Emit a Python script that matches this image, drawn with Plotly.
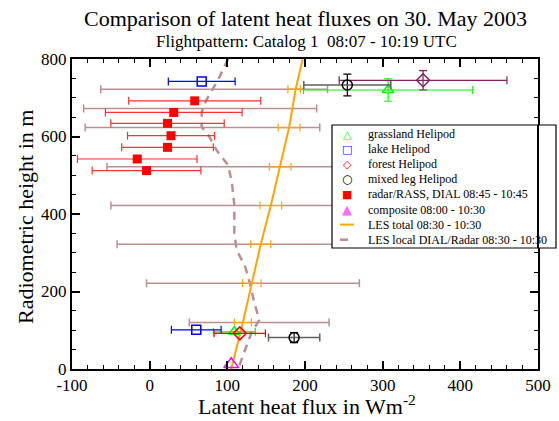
import plotly.graph_objects as go

# ---------------- data ----------------
grass_x = [307, 109]
grass_y = [720, 96]
grass_ex = [109, 27]
grass_ey = [29, 0]

lake_x = [67, 60]
lake_y = [742, 101]
lake_ex = [43, 32]

forest_x = [116]
forest_y = [92]
forest_ex = [33]

forest_up_x = [352]
forest_up_y = [745]
forest_up_ex = [108]
forest_up_ey = [25]

mixed_x = [254.5, 186]
mixed_y = [733, 81]
mixed_ex = [56, 33]
mixed_ey = [28, 13]

radar_x = [58, 31, 23, 27.5, 23, -16, -4]
radar_y = [692, 662, 634, 602, 572, 542, 512]
radar_ex = [85, 88, 73, 56, 59, 77, 70]

comp_x = [105]
comp_y = [12]

les_total_y = [0, 120, 221, 322, 422, 522, 623, 722, 800]
les_total_x = [105, 120, 131.5, 143, 156, 168, 179.5, 188, 197]
les_total_err_y = [120, 221, 322, 422, 522, 623, 722]
les_total_err_x = [120, 131.5, 143, 156, 168, 179.5, 186]
les_total_err = [11, 12, 13, 14, 14, 14, 8]

les_local_y = [800, 746, 694, 663, 625, 599, 565, 526, 480, 423, 351, 307, 264, 221, 178, 126, 93, 58, 23, 0]
les_local_x = [101, 88, 73, 67, 67, 77, 86, 101, 106, 109, 109, 112, 123, 129, 134, 141, 131, 125, 118, 114]
les_local_err_y = [722, 672, 623, 522, 422, 322, 221, 120]
les_local_err_x = [83, 65, 68, 101, 110, 112, 133, 141]
les_local_err = [146, 150, 151, 156, 160, 154, 137, 90]

x_ticks = [-100, 0, 100, 200, 300, 400, 500]
y_ticks = [0, 200, 400, 600, 800]

legend_labels = ["grassland Helipod", "lake Helipod", "forest Helipod", "mixed leg Helipod",
                 "radar/RASS, DIAL 08:45 - 10:45", "composite 08:00 - 10:30",
                 "LES total 08:30 - 10:30", "LES local DIAL/Radar 08:30 - 10:30"]

FONT = "Liberation Serif"
ROSY = "#bc8f8f"
ORANGE = "#ffa500"
GREEN = "#00ff00"
BLUE = "#0000ff"
RED = "#ff0000"
MAROON = "#802060"
MAGENTA = "#ff00ff"

# plot area in pixels
L, R, T, B = 72, 538, 59, 369


def px(xp):
    return (xp - L) / (R - L)


def py(yp):
    return (B - yp) / (B - T)


fig = go.Figure()

fig.add_trace(go.Scatter(
    x=les_local_err_x, y=les_local_err_y, mode="markers",
    marker=dict(size=0.1, color=ROSY, opacity=0),
    error_x=dict(type="data", array=les_local_err, color=ROSY, thickness=1.5, width=4),
    showlegend=False, hoverinfo="skip"))

fig.add_trace(go.Scatter(
    x=les_local_x, y=les_local_y, mode="lines",
    line=dict(color=ROSY, width=2.5, dash="8px,6px"), showlegend=False))

fig.add_trace(go.Scatter(
    x=les_total_err_x, y=les_total_err_y, mode="markers",
    marker=dict(size=0.1, color=ORANGE, opacity=0),
    error_x=dict(type="data", array=les_total_err, color=ORANGE, thickness=1.2, width=4),
    showlegend=False, hoverinfo="skip"))

fig.add_trace(go.Scatter(
    x=les_total_x, y=les_total_y, mode="lines",
    line=dict(color=ORANGE, width=2), showlegend=False))

fig.add_trace(go.Scatter(
    x=radar_x, y=radar_y, mode="markers",
    marker=dict(symbol="square", size=9, color=RED),
    error_x=dict(type="data", array=radar_ex, color="#ff3030", thickness=1.2, width=4),
    showlegend=False))

fig.add_trace(go.Scatter(
    x=grass_x[:1], y=grass_y[:1], mode="markers",
    marker=dict(symbol="triangle-up-open", size=10, color=GREEN, line=dict(width=1.5)),
    error_x=dict(type="data", array=grass_ex[:1], color=GREEN, thickness=1.2, width=4),
    error_y=dict(type="data", array=grass_ey[:1], color=GREEN, thickness=1.2, width=4),
    showlegend=False))
fig.add_trace(go.Scatter(
    x=grass_x[1:], y=grass_y[1:], mode="markers",
    marker=dict(symbol="triangle-up-open", size=10, color=GREEN, line=dict(width=1.5)),
    error_x=dict(type="data", array=grass_ex[1:], color=GREEN, thickness=1.2, width=4),
    showlegend=False))

fig.add_trace(go.Scatter(
    x=lake_x, y=lake_y, mode="markers",
    marker=dict(symbol="square-open", size=9, color=BLUE, line=dict(width=1.5)),
    error_x=dict(type="data", array=lake_ex, color=BLUE, thickness=1.2, width=4),
    error_y=dict(type="data", value=9, color=BLUE, thickness=1.2, width=0),
    showlegend=False))

fig.add_trace(go.Scatter(
    x=forest_x, y=forest_y, mode="markers",
    marker=dict(symbol="diamond-open", size=10, color=RED, line=dict(width=1.5)),
    error_x=dict(type="data", array=forest_ex, color=RED, thickness=1.2, width=4),
    error_y=dict(type="data", value=9, color=RED, thickness=1.2, width=2),
    showlegend=False))
fig.add_trace(go.Scatter(
    x=forest_up_x, y=forest_up_y, mode="markers",
    marker=dict(symbol="diamond-open", size=10, color=MAROON, line=dict(width=1.5)),
    error_x=dict(type="data", array=forest_up_ex, color=MAROON, thickness=1.2, width=4),
    error_y=dict(type="data", array=forest_up_ey, color=MAROON, thickness=1.2, width=4),
    showlegend=False))

fig.add_trace(go.Scatter(
    x=mixed_x, y=mixed_y, mode="markers",
    marker=dict(symbol="circle-open", size=10, color="#000000", line=dict(width=1.5)),
    error_x=dict(type="data", array=mixed_ex, color="#606060", thickness=1.5, width=4),
    error_y=dict(type="data", array=mixed_ey, color="#000000", thickness=1.2, width=4),
    showlegend=False))

fig.add_trace(go.Scatter(
    x=comp_x, y=comp_y, mode="markers",
    marker=dict(symbol="triangle-up-open", size=13, color=MAGENTA, line=dict(width=1.5)),
    showlegend=False))

axis_common = dict(
    showline=True, linecolor="black", linewidth=2, mirror="ticks",
    ticks="inside", ticklen=8, tickwidth=1.5, tickcolor="black",
    showgrid=False, zeroline=False,
)

# ---------------- manual legend (box, keys, labels) ----------------
LG_L, LG_T, LG_B, LG_R = 332, 125, 248, 556
row0, drow = 134, 15.1
key_x, text_x = 347, 366
shapes = [
    dict(type="rect", xref="paper", yref="paper", x0=px(LG_L), x1=px(LG_R), y0=py(LG_B), y1=py(LG_T),
         line=dict(color="black", width=1.2), fillcolor="white", layer="above"),
    dict(type="line", xref="paper", yref="paper", x0=1, x1=1, y0=py(LG_B), y1=py(LG_T),
         line=dict(color="black", width=2), layer="above"),
    dict(type="line", xref="paper", yref="paper", x0=px(340), x1=px(354),
         y0=py(row0 + 6 * drow), y1=py(row0 + 6 * drow),
         line=dict(color=ORANGE, width=2), layer="above"),
    dict(type="line", xref="paper", yref="paper", x0=px(340), x1=px(354),
         y0=py(row0 + 7 * drow), y1=py(row0 + 7 * drow),
         line=dict(color=ROSY, width=2.5, dash="8px,6px"), layer="above"),
]

key_glyphs = [("△", GREEN, 11), ("□", BLUE, 11), ("◇", RED, 11), ("○", "#000000", 12),
              ("■", RED, 11), ("▲", MAGENTA, 13)]

annotations = [
    dict(text="Comparison of latent heat fluxes on 30. May 2003",
         xref="paper", yref="paper", x=px(305), y=py(19),
         showarrow=False, font=dict(size=22, family=FONT), xanchor="center", yanchor="middle"),
    dict(text="Flightpattern: Catalog 1&nbsp;&nbsp;08:07 - 10:19 UTC",
         xref="paper", yref="paper", x=px(306), y=py(42),
         showarrow=False, font=dict(size=17, family=FONT), xanchor="center", yanchor="middle"),
    dict(text="Latent heat flux in Wm<sup>-2</sup>",
         xref="paper", yref="paper", x=px(307), y=py(405),
         showarrow=False, font=dict(size=22, family=FONT), xanchor="center", yanchor="middle"),
    dict(text="Radiometric height in m", textangle=-90,
         xref="paper", yref="paper", x=px(25), y=py(217),
         showarrow=False, font=dict(size=22, family=FONT), xanchor="center", yanchor="middle"),
]
for i, lab in enumerate(legend_labels):
    annotations.append(dict(text=lab, xref="paper", yref="paper", x=px(text_x), y=py(row0 + i * drow),
                            showarrow=False, font=dict(size=12, family=FONT),
                            xanchor="left", yanchor="middle"))
for i, (g, c, s) in enumerate(key_glyphs):
    annotations.append(dict(text=g, xref="paper", yref="paper", x=px(key_x), y=py(row0 + i * drow),
                            showarrow=False,
                            font=dict(size=s, family="DejaVu Sans", color=c),
                            xanchor="center", yanchor="middle",
                            opacity=0.6 if i == 5 else 1))

fig.update_layout(
    width=559, height=421,
    margin=dict(l=L, r=559 - R, t=T, b=421 - B, autoexpand=False),
    paper_bgcolor="white", plot_bgcolor="white",
    font=dict(family=FONT, color="black"),
    xaxis=dict(range=[-100, 500], tickvals=x_ticks, ticktext=[str(v) for v in x_ticks],
               tickfont=dict(size=17, family=FONT),
               minor=dict(dtick=20, tick0=0, ticks="inside", ticklen=4, tickcolor="black", tickwidth=1.2),
               **axis_common),
    yaxis=dict(range=[0, 800], tickvals=y_ticks, ticktext=[str(v) for v in y_ticks],
               tickfont=dict(size=17, family=FONT),
               minor=dict(dtick=50, tick0=0, ticks="inside", ticklen=4, tickcolor="black", tickwidth=1.2),
               **axis_common),
    showlegend=False,
    shapes=shapes,
    annotations=annotations,
)

fig.write_html("out.html")
